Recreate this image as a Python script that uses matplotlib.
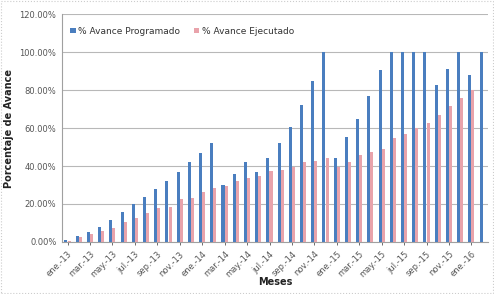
import matplotlib.pyplot as plt
import numpy as np
from matplotlib.ticker import FuncFormatter

meses = ['ene.-13', 'feb.-13', 'mar.-13', 'abr.-13', 'may.-13', 'jun.-13',
         'jul.-13', 'ago.-13', 'sep.-13', 'oct.-13', 'nov.-13', 'dic.-13',
         'ene.-14', 'feb.-14', 'mar.-14', 'abr.-14', 'may.-14', 'jun.-14',
         'jul.-14', 'ago.-14', 'sep.-14', 'oct.-14', 'nov.-14', 'dic.-14',
         'ene.-15', 'feb.-15', 'mar.-15', 'abr.-15', 'may.-15', 'jun.-15',
         'jul.-15', 'ago.-15', 'sep.-15', 'oct.-15', 'nov.-15', 'dic.-15',
         'ene.-16', 'feb.-16']

programado = [1.0, 3.3, 5.4, 8.0, 11.6, 16.0, 19.8, 23.5, 27.9, 32.3, 37.0, 42.0,
              46.7, 52.0, 30.2, 35.8, 42.2, 36.6, 44.0, 52.0, 60.7, 72.0, 85.0, 100.0,
              44.3, 55.4, 64.7, 77.0, 90.5, 100.0, 100.0, 100.0, 100.0, 82.6, 91.0, 100.0,
              88.0, 100.0]

ejecutado = [0.5, 2.6, 4.0, 6.0, 7.5, 10.5, 12.8, 15.0, 18.0, 18.2, 22.4, 23.3,
             26.3, 28.3, 29.6, 31.9, 33.5, 34.6, 37.5, 38.0, 39.6, 42.0, 42.4, 44.0,
             39.5, 41.9, 45.8, 47.4, 49.2, 54.9, 56.7, 59.8, 62.8, 66.8, 71.7, 75.6,
             80.0, 0.0]

azul = '#4a7ebf'
rosa = '#e9a3ab'

fig = plt.figure(figsize=(4.94, 2.94), dpi=100)
ax = fig.add_axes([0.1255, 0.177, 0.863, 0.775])

x = np.arange(len(meses))
ancho = 0.27
ax.bar(x - 0.15, programado, ancho, color=azul, label='% Avance Programado', zorder=3)
ax.bar(x + 0.13, ejecutado, ancho, color=rosa, label='% Avance Ejecutado', zorder=3)

ax.set_xlim(-0.5, len(meses) - 0.5)
ax.set_ylim(0, 120)
ax.set_yticks(np.arange(0, 121, 20))
ax.yaxis.set_major_formatter(FuncFormatter(lambda v, p: '%.2f%%' % v))
ax.grid(axis='y', color='#b8b8b8', linewidth=0.8, zorder=0)

ax.set_xticks(x[::2])
ax.set_xticklabels(meses[::2], rotation=45, ha='right', rotation_mode='anchor')
ax.tick_params(axis='both', labelsize=6, colors='#555555', length=2, width=0.6)
ax.tick_params(axis='y', length=0, pad=4)

for lado in ['top', 'right']:
    ax.spines[lado].set_visible(False)
ax.spines['left'].set_color('#a0a0a0')
ax.spines['bottom'].set_color('#a0a0a0')

ax.set_ylabel('Porcentaje de Avance', fontsize=7, fontweight='bold', color='#222222')
ax.set_xlabel('Meses', fontsize=7, fontweight='bold', color='#222222', labelpad=-2)

ax.legend(loc='upper left', bbox_to_anchor=(0.0, 0.98), ncol=2, frameon=False,
          fontsize=6.5, handlelength=0.6, handleheight=0.6, handletextpad=0.3,
          columnspacing=1.5, labelcolor='#333333')

fig.patches.append(plt.Rectangle((0.003, 0.003), 0.994, 0.994, transform=fig.transFigure,
                                 fill=False, edgecolor='#cccccc', linewidth=0.8,
                                 linestyle=':'))

fig.savefig('out.png', dpi=100)
